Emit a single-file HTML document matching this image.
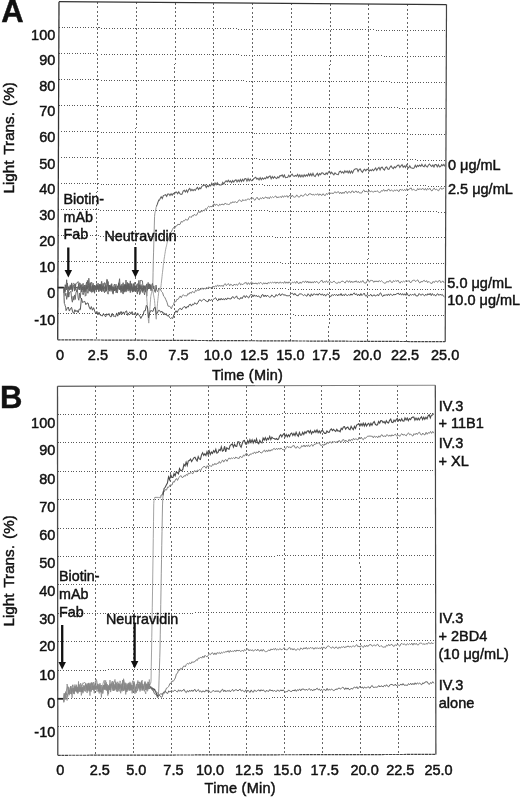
<!DOCTYPE html>
<html><head><meta charset="utf-8"><style>
html,body{margin:0;padding:0;background:#fff;}
body{width:520px;height:798px;overflow:hidden;}
svg{display:block;filter:blur(0.3px);}
text{font-family:"Liberation Sans",sans-serif;fill:#111;stroke:#111;stroke-width:0.45px;}
</style></head><body>
<svg width="520" height="798" viewBox="0 0 520 798">
<defs><linearGradient id="gtop" gradientUnits="userSpaceOnUse" x1="57" y1="0" x2="436" y2="0"><stop offset="0" stop-color="#333"/><stop offset="0.35" stop-color="#666"/><stop offset="1" stop-color="#888"/></linearGradient></defs>
<rect width="520" height="798" fill="#fff"/>
<line x1="57.8" y1="313.79" x2="445.3" y2="315.77" stroke="#585858" stroke-width="1" stroke-dasharray="1 1.64" shape-rendering="crispEdges"/>
<line x1="57.9" y1="287.78" x2="445.4" y2="289.84" stroke="#585858" stroke-width="1" stroke-dasharray="1 1.64" shape-rendering="crispEdges"/>
<line x1="58" y1="261.78" x2="445.5" y2="263.91" stroke="#585858" stroke-width="1" stroke-dasharray="1 1.64" shape-rendering="crispEdges"/>
<line x1="58.1" y1="235.77" x2="445.6" y2="237.98" stroke="#585858" stroke-width="1" stroke-dasharray="1 1.64" shape-rendering="crispEdges"/>
<line x1="58.2" y1="209.76" x2="445.7" y2="212.05" stroke="#585858" stroke-width="1" stroke-dasharray="1 1.64" shape-rendering="crispEdges"/>
<line x1="58.3" y1="183.75" x2="445.8" y2="186.12" stroke="#585858" stroke-width="1" stroke-dasharray="1 1.64" shape-rendering="crispEdges"/>
<line x1="58.4" y1="157.75" x2="445.9" y2="160.18" stroke="#585858" stroke-width="1" stroke-dasharray="1 1.64" shape-rendering="crispEdges"/>
<line x1="58.5" y1="131.74" x2="446" y2="134.25" stroke="#585858" stroke-width="1" stroke-dasharray="1 1.64" shape-rendering="crispEdges"/>
<line x1="58.6" y1="105.73" x2="446.1" y2="108.32" stroke="#585858" stroke-width="1" stroke-dasharray="1 1.64" shape-rendering="crispEdges"/>
<line x1="58.7" y1="79.72" x2="446.2" y2="82.39" stroke="#585858" stroke-width="1" stroke-dasharray="1 1.64" shape-rendering="crispEdges"/>
<line x1="58.8" y1="53.72" x2="446.3" y2="56.46" stroke="#585858" stroke-width="1" stroke-dasharray="1 1.64" shape-rendering="crispEdges"/>
<line x1="58.9" y1="27.71" x2="446.4" y2="30.53" stroke="#585858" stroke-width="1" stroke-dasharray="1 1.64" shape-rendering="crispEdges"/>
<line x1="97.75" y1="1.99" x2="96.45" y2="339.99" stroke="#666" stroke-width="1" stroke-dasharray="2 2.3" shape-rendering="crispEdges"/>
<line x1="136.5" y1="2.28" x2="135.2" y2="340.18" stroke="#666" stroke-width="1" stroke-dasharray="2 2.3" shape-rendering="crispEdges"/>
<line x1="175.25" y1="2.57" x2="173.95" y2="340.37" stroke="#666" stroke-width="1" stroke-dasharray="2 2.3" shape-rendering="crispEdges"/>
<line x1="214" y1="2.86" x2="212.7" y2="340.56" stroke="#666" stroke-width="1" stroke-dasharray="2 2.3" shape-rendering="crispEdges"/>
<line x1="252.75" y1="3.15" x2="251.45" y2="340.75" stroke="#666" stroke-width="1" stroke-dasharray="2 2.3" shape-rendering="crispEdges"/>
<line x1="291.5" y1="3.44" x2="290.2" y2="340.94" stroke="#666" stroke-width="1" stroke-dasharray="2 2.3" shape-rendering="crispEdges"/>
<line x1="330.25" y1="3.73" x2="328.95" y2="341.13" stroke="#666" stroke-width="1" stroke-dasharray="2 2.3" shape-rendering="crispEdges"/>
<line x1="369" y1="4.02" x2="367.7" y2="341.32" stroke="#666" stroke-width="1" stroke-dasharray="2 2.3" shape-rendering="crispEdges"/>
<line x1="407.75" y1="4.31" x2="406.45" y2="341.51" stroke="#666" stroke-width="1" stroke-dasharray="2 2.3" shape-rendering="crispEdges"/>
<line x1="59" y1="1.7" x2="446.5" y2="4.6" stroke="#333" stroke-width="1.3"/>
<line x1="59" y1="1.7" x2="57.7" y2="339.8" stroke="#333" stroke-width="1.3"/>
<line x1="446.5" y1="4.6" x2="445.2" y2="341.7" stroke="#444" stroke-width="1.2"/>
<line x1="57.7" y1="339.8" x2="445.2" y2="341.7" stroke="#444" stroke-width="1.2" stroke-dasharray="3 0.6"/>
<polyline fill="none" points="57.7,287.6 63.8,287.6" stroke="#222" stroke-width="1.8"/>
<polyline fill="none" points="63.8,289.73 64.52,290.93 65.23,284.69 65.95,288.32 66.66,279.76 67.38,289.21 68.09,297.23 68.81,287.32 69.52,289.96 70.24,285.99 70.95,289.56 71.67,284.95 72.38,291.49 73.1,286.67 73.81,285.23 74.53,291.11 75.24,284.11 75.96,290.26 76.67,292.1 77.39,286.68 78.1,289.6 78.82,284.18 79.53,289.99 80.25,285.38 80.96,288.66 81.68,291.89 82.39,285.64 83.11,283.31 83.82,289.72 84.54,285.05 85.25,296.2 85.97,295.4 86.68,285.72 87.4,292.83 88.11,293.28 88.83,286.21 89.54,290.85 90.26,282.78 90.97,288.29 91.69,292.56 92.4,292.01 93.12,285.75 93.83,291.52 94.55,285.08 95.26,289.04 95.98,285.55 96.69,289.82 97.41,285.4 98.12,288.97 98.84,285.77 99.55,284.01 100.27,290.79 100.98,284.65 101.7,291.99 102.41,286.79 103.13,291.23 103.84,287.15 104.56,282.64 105.27,283.2 105.99,289.38 106.7,279.46 107.42,279.63 108.13,289.84 108.85,284.98 109.56,289.22 110.28,285.95 110.99,289.91 111.71,283.64 112.42,288.74 113.14,292.73 113.85,285.38 114.57,284.06 115.28,289.97 116,284.23 116.71,291.64 117.43,293.07 118.14,286.77 118.86,283.57 119.57,284.23 120.29,288.36 121,292.64 121.72,285.59 122.43,290.85 123.15,286.29 123.86,292.44 124.58,284.88 125.29,290.99 126.01,280.04 126.72,290.5 127.44,286.56 128.15,289.44 128.87,283.15 129.58,288.82 130.3,280.88 131.01,290.78 131.73,285.6 132.44,292.18 133.16,291.45 133.87,283.84 134.59,290.62 135.3,286.09 136.02,289.97 136.73,284.57 137.45,283.67 138.16,289.27 138.88,291.18 139.59,285.27 140.31,288.71 141.02,284.52 141.74,290.78 142.45,292.44 143.17,286.02 143.88,292.5 144.6,294.9 145.31,288.38 146.03,285.39 146.74,296.19 147.46,285.83 148.17,282.44 148.89,288.34 149.6,283.8" stroke="#606060" stroke-width="0.9"/>
<polyline fill="none" points="149.6,283.8 150.32,286.89 150.57,288.22 150.82,288.41 151.07,288.63 151.32,289.15" stroke="#606060" stroke-width="1.05"/>
<polyline fill="none" points="151.32,289.15 151.57,289.24 151.82,289.65 152.07,289.68 152.32,290.02 152.57,291 152.82,285.6 153.07,272.42 153.32,260.86 153.57,252.13 153.82,242.93 154.07,234.29 154.32,225.07 154.57,216.33 154.82,213.77 155.07,212.37 155.32,211.52 155.57,210.11 155.82,209.15 156.07,207.53 156.32,206.49" stroke="#8a8a8a" stroke-width="0.9"/>
<polyline fill="none" points="156.32,206.49 156.57,206.16 156.82,205.14 157.07,204.73 157.32,204.2 157.57,203.5 157.82,202.48 158.07,201.99 158.32,201.27 158.57,200.39 158.82,200.48 159.07,199.99 159.32,200.18 159.57,200.06 159.82,199.44 160.07,198.64 161.17,196.7 162.27,198.5 163.37,195.58 164.47,195.13 165.57,194.68 166.67,196.32 167.77,194.02 168.87,193.98 169.97,195.48 171.07,193.8 172.17,195.38 173.27,193.43 174.37,194 175.47,192.21 176.57,191.97 177.67,193.78 178.77,191.79 179.87,193.65 180.97,194.33 182.07,194.12 183.17,191.07 184.27,190.24 185.37,191.99 186.47,190 187.57,192.18 188.67,189.55 189.77,188.46 190.87,190.86 191.97,189.45 193.07,190.72 194.17,189.48 195.27,190.53 196.37,188.6 197.47,187.41 198.57,189.51 199.67,187.86 200.77,188.74 201.87,186.28 202.97,185.66 204.07,185.28 205.17,184.99 206.27,187.5 207.37,185.62 208.47,186.69 209.57,185.09 210.67,185.93 211.77,183.29 212.87,185.23 213.97,185.86 215.07,183 216.17,184.71 217.27,182.78 218.37,184.37 219.47,185 220.57,185.08 221.67,184.78 222.77,182.38 223.87,183.93 224.97,181.98 226.07,180.76 227.17,181.95 228.27,180.18 229.37,181.9 230.47,180.87 231.57,182.76 232.67,180.58 233.77,182.1 234.87,180.47 235.97,179.76 237.06,181.92 238.16,180.02 239.26,181.76 240.36,179.48 241.46,181.55 242.56,179.34 243.66,181.06 244.76,178.81 245.86,178.55 246.96,181.1 248.06,178.57 249.16,180.91 250.26,179.05 251.36,180.77 252.46,180.6 253.56,178.95 254.66,177.96 255.76,177.19 256.86,179.19 257.96,178.24 259.06,180.01 260.16,177.64 261.26,179.68 262.37,177.96 263.47,179.27 264.57,177.96 265.67,178.71 266.77,176.65 267.87,178.11 268.97,176.41 270.07,176 271.17,178.71 272.27,176.59 273.37,178.24 274.47,176.7 275.57,177.95 276.67,178.62 277.77,176.86 278.87,177.95 279.97,175.62 281.07,175.84 282.17,174.83 283.27,177.06 284.37,175.06 285.47,177.65 286.57,177.57 287.67,177.31 288.77,175.23 289.87,176.84 290.97,175.22 292.07,174.05 293.17,175.89 294.27,176.47 295.37,175.34 296.47,176.16 297.57,174.35 298.67,176.76 299.77,174.92 300.87,177.02 301.97,175.1 303.07,176.95 304.17,174.85 305.27,176.3 306.37,174.89 307.47,176.03 308.57,173.68 309.67,175.83 310.77,173.69 311.87,175.86 312.97,173.31 314.07,175.84 315.17,176.6 316.27,174.55 317.37,173.31 318.47,175.74 319.57,173.56 320.67,174.64 321.77,172.82 322.87,172.98 323.97,174.19 325.07,174.55 326.17,172.93 327.27,174.26 328.37,172.19 329.47,171.32 330.57,173.65 331.67,172.08 332.77,173.68 333.87,174.95 334.97,172.91 336.07,173.91 337.17,174.54 338.27,174.67 339.37,171.56 340.47,171.17 341.57,172.88 342.67,171.75 343.77,173.21 344.87,170.83 345.97,172.46 347.07,171.06 348.17,172.99 349.27,170.93 350.37,173.06 351.47,171.11 352.57,173.11 353.67,170.3 354.77,169.19 355.87,168.82 356.97,168.79 358.07,171.49 359.17,169.39 360.27,168.97 361.37,171.2 362.47,172.29 363.57,170.15 364.67,169.26 365.77,170.84 366.87,169.37 367.97,169.26 369.07,171.35 370.17,169.87 371.27,170.8 372.37,169.29 373.47,170.75 374.57,169.33 375.67,168.03 376.77,170.46 377.87,168.59 378.97,167.42 380.07,170.02 381.17,167.54 382.27,167.14 383.37,169.21 384.47,170.17 385.57,167.3 386.67,166.91 387.77,169.04 388.87,169.44 389.97,167.28 391.07,165.97 392.17,167.58 393.27,168.61 394.37,166.87 395.47,167.67 396.57,166.41 397.67,165.35 398.77,165.17 399.87,167.51 400.97,165.81 402.07,164.63 403.17,167.23 404.27,165.82 405.37,167.47 406.47,164.93 407.57,167.1 408.67,167.98 409.77,165.8 410.87,167.74 411.97,168.06 413.07,168.48 414.17,167.92 415.27,165.14 416.37,167.17 417.47,165.42 418.57,166.43 419.67,165.02 420.77,166.32 421.87,164.38 422.97,166.21 424.07,166.79 425.17,164.63 426.27,166.42 427.37,167.09 428.47,164.99 429.57,163.95 430.67,165.72 431.77,166.44 432.87,164.99 433.97,167.05 435.07,164.57 436.17,164.48 437.27,166.87 438.37,164.68 439.47,166.84 440.57,166.51 441.67,164.64 442.77,165.72 443.87,164.5 444.97,166.49" stroke="#606060" stroke-width="1.05"/>
<polyline fill="none" points="63.8,292.83 64.52,287.49 65.23,291.72 65.95,285.14 66.66,290 67.38,283.07 68.09,289.33 68.81,286.5 69.52,290.29 70.24,284.82 70.95,289.5 71.67,282.9 72.38,290.98 73.1,283.77 73.81,283.33 74.53,283.91 75.24,289.71 75.96,283.26 76.67,283.17 77.39,282.73 78.1,281.59 78.82,288.39 79.53,282.88 80.25,283.21 80.96,289.64 81.68,284.53 82.39,290.14 83.11,286.65 83.82,292.38 84.54,287.5 85.25,290.11 85.97,284.96 86.68,289.16 87.4,280.43 88.11,287.44 88.83,278.21 89.54,286.1 90.26,289.37 90.97,282.77 91.69,282.05 92.4,289.7 93.12,283.22 93.83,290.68 94.55,293.25 95.26,286.27 95.98,290.05 96.69,283.64 97.41,289.43 98.12,283.1 98.84,291.91 99.55,285.35 100.27,289.16 100.98,284.72 101.7,281.33 102.41,288.1 103.13,283.26 103.84,289.43 104.56,286.62 105.27,291.74 105.99,286.88 106.7,291.07 107.42,284.91 108.13,281.54 108.85,289.18 109.56,285.1 110.28,288.85 110.99,284.6 111.71,289.42 112.42,286.7 113.14,290.22 113.85,287 114.57,291.01 115.28,287.06 116,292.73 116.71,291.91 117.43,285.91 118.14,289.26 118.86,283.52 119.57,278.72 120.29,289.23 121,285.38 121.72,284.37 122.43,291.89 123.15,294.07 123.86,286.59 124.58,291.63 125.29,284.49 126.01,292.1 126.72,287.5 127.44,282.41 128.15,288.73 128.87,284.01 129.58,288.6 130.3,292.64 131.01,285.25 131.73,283.63 132.44,291.81 133.16,287.13 133.87,291.53 134.59,285.65 135.3,291.45 136.02,285.77 136.73,291.63 137.45,294.09 138.16,286.96 138.88,280.38 139.59,289.62 140.31,280.08 141.02,280.84 141.74,280.52 142.45,280.85 143.17,289.33 143.88,290.6 144.6,286.33 145.31,289.81" stroke="#606060" stroke-width="0.9"/>
<polyline fill="none" points="145.31,289.81 146.03,288.89 146.28,292.1 146.53,294.93 146.78,298.52 147.03,301.6 147.28,305.06 147.53,308.13 147.78,311.82 148.03,315.21 148.28,318.18 148.53,321.51 148.78,323.1 149.03,319.56 149.28,316.48 149.53,313.2 149.78,309.58 150.03,306.55 150.28,302.87 150.53,299.8 150.78,296.48 151.03,295.26 151.28,293.88 151.53,293.11 151.78,292.12 152.03,290.85 152.28,290.13 152.53,289.41 152.78,290.48 153.03,292 153.28,293.04 153.53,294.8 153.78,295.92 154.03,297.45 154.28,298.67 154.53,300.4 154.78,303.53 155.03,306.08 155.28,308.94 155.53,312.12 155.78,314.81 156.03,318.02 156.28,319.22 156.53,316.19 156.78,312.66 157.03,309.88 157.28,306.81 157.53,303.26 157.78,300.47 158.03,298.44 158.28,296.42 158.53,293.89 158.78,292 159.03,289.9 159.28,289.48 159.53,289.52 159.78,288.81 160.03,288.71 160.28,288.23 160.53,287.75 160.78,287.46 161.03,285.69 161.28,283.56 161.53,280.98 161.78,278.95 162.03,276.72 162.28,274.28 162.53,272.32 162.78,269.92 163.03,267.94 163.28,265.57 163.53,263.7 163.78,261.46 164.03,259.66 164.28,258 164.53,256.68 164.78,254.67 165.03,253.27 165.28,251.69 165.53,249.76 165.78,248.97 166.03,247.55 166.28,246.78 166.53,245.77 166.78,244.29 167.03,243.31 167.28,242.08 167.53,241.67 167.78,240.48" stroke="#9a9a9a" stroke-width="0.9"/>
<polyline fill="none" points="167.78,240.48 168.03,240.53 169.13,236.91 170.23,233.06 171.33,231.89 172.43,229.49 173.53,227.58 174.63,228.63 175.73,226.03 176.83,225.91 177.93,224.1 179.03,224.74 180.13,224.26 181.23,221.4 182.33,222.23 183.43,220.62 184.53,220.84 185.63,219.21 186.73,219.95 187.83,220.08 188.93,217.44 190.03,216.45 191.13,217.56 192.23,215.65 193.33,216.03 194.43,214.22 195.53,215.33 196.63,215.13 197.73,213 198.83,211.19 199.93,212.77 201.03,210.74 202.13,211.76 203.23,210.15 204.33,210.95 205.43,208.62 206.53,209.54 207.63,207.39 208.73,206.22 209.83,207.21 210.93,206.19 212.03,207.01 213.13,204.64 214.23,203.84 215.33,205.5 216.43,203.96 217.53,205.28 218.63,205.91 219.73,204.15 220.83,205.15 221.93,203.93 223.03,204.64 224.13,204.7 225.23,202.98 226.33,204.19 227.43,204.16 228.53,204.52 229.63,204.27 230.73,202.4 231.83,203.09 232.93,201.6 234.03,202.77 235.13,201.41 236.23,202.6 237.33,202.5 238.43,200.59 239.53,199.77 240.62,201.12 241.72,201.56 242.82,199.55 243.92,200.78 245.02,199.64 246.12,200.59 247.22,199.16 248.32,198.95 249.42,199.76 250.52,198.31 251.62,199.22 252.72,197.65 253.82,199.34 254.92,200.31 256.02,198.5 257.12,197.19 258.22,199.19 259.32,199.72 260.43,197.87 261.53,198.77 262.63,197.29 263.73,198.88 264.83,197.46 265.93,196.95 267.03,198.37 268.13,197.34 269.23,198.84 270.33,196.67 271.43,197.74 272.53,196.73 273.63,197.7 274.73,196.5 275.83,195.97 276.93,197.92 278.03,196.92 279.13,197.54 280.23,196.39 281.33,197.74 282.43,195.73 283.53,197.35 284.63,195.76 285.73,196.84 286.83,195.49 287.93,197.45 289.03,195.93 290.13,195.08 291.23,197 292.33,195.02 293.43,196.91 294.53,197.23 295.63,196.81 296.73,194.88 297.83,196.54 298.93,197.12 300.03,196.64 301.13,194.86 302.23,196.1 303.33,196.23 304.43,194.6 305.53,193.75 306.63,195.4 307.73,195.67 308.83,194.03 309.93,193.79 311.03,193.96 312.13,195.01 313.23,194.21 314.33,195.35 315.43,194.15 316.53,194.88 317.63,193.64 318.73,195.48 319.83,193.86 320.93,194.92 322.03,195.44 323.13,193.7 324.23,195.31 325.33,195.52 326.43,193.43 327.53,194.47 328.63,192.86 329.73,192.32 330.83,193.84 331.93,192.74 333.03,193.91 334.13,192.39 335.23,191.73 336.33,193.18 337.43,191.9 338.53,191.7 339.63,193.69 340.73,192.07 341.83,193.89 342.93,192.09 344.03,193.49 345.13,191.57 346.23,191.38 347.33,193.47 348.43,191.72 349.53,191.6 350.63,193.13 351.73,191.15 352.83,190.99 353.93,192.91 355.03,191.54 356.13,191.03 357.23,192.68 358.33,191.27 359.43,193 360.53,192.98 361.63,193.09 362.73,190.99 363.83,189.95 364.93,191.99 366.03,191.07 367.13,191.73 368.23,192.17 369.33,190.33 370.43,192.1 371.53,190.9 372.63,191.8 373.73,192.13 374.83,190.88 375.93,191.79 377.03,190.67 378.13,191.64 379.23,192.45 380.33,192.36 381.43,190.57 382.53,191.17 383.63,189.48 384.73,191.29 385.83,190.01 386.93,191.26 388.03,189.37 389.13,189.34 390.23,191.17 391.33,189.87 392.43,190.71 393.53,191.33 394.63,189.89 395.73,190.86 396.83,189.65 397.93,190.95 399.03,191.51 400.13,189.17 401.23,190.19 402.33,189.44 403.43,190.79 404.53,189.4 405.63,190.78 406.73,188.64 407.83,190.19 408.93,189.18 410.03,188.76 411.13,187.9 412.23,190.31 413.33,189.17 414.43,189.85 415.53,190.54 416.63,190.53 417.73,188.48 418.83,189.93 419.93,188.56 421.03,189.73 422.13,188.73 423.23,188.56 424.33,190.14 425.43,188.38 426.53,190.3 427.63,188.31 428.73,189.52 429.83,188.18 430.93,190.27 432.03,191.03 433.13,189.11 434.23,188.05 435.33,189.84 436.43,189.01 437.53,190.33 438.63,190.82 439.73,188.61 440.83,187.9 441.93,189.49 443.03,188.25 444.13,188.32" stroke="#808080" stroke-width="1.0"/>
<polyline fill="none" points="63.8,289.95 64.52,289.19 65.23,295.66 65.95,293.24 66.66,299.38 67.38,295.21 68.09,292.62 68.81,296.99 69.52,292.34 70.24,292.23 70.95,291.21 71.67,299.18 72.38,302.2 73.1,296.31 73.81,300.21 74.53,294.93 75.24,299.48 75.96,292.67 76.67,291.14 77.39,289.53 78.1,297.86 78.82,300.24 79.53,292.96 80.25,298.28 80.96,290.75 81.68,287.7 82.39,292.58 83.11,294.84 83.82,292.89 84.54,288.04 85.25,291.68 85.97,284.71 86.68,282.17 87.4,289.31 88.11,284.97 88.83,283.64 89.54,288.82 90.26,291.64 90.97,286.3 91.69,291.09 92.4,285.36 93.12,289.83 93.83,285.78 94.55,292.13 95.26,285.84 95.98,289.86 96.69,286.08 97.41,285.72 98.12,289.81 98.84,290.99 99.55,285.07 100.27,289.66 100.98,284.05 101.7,290.42 102.41,286.54 103.13,289.68 103.84,290.75 104.56,292.74 105.27,287.69 105.99,285.42 106.7,290.09 107.42,292.44 108.13,294.17 108.85,285.3 109.56,291.2 110.28,285.78 110.99,291.39 111.71,286.66 112.42,292.23 113.14,294.16 113.85,288.6 114.57,290.78 115.28,286 116,290.02 116.71,291.9 117.43,287.16 118.14,285.59 118.86,282.8 119.57,289.91 120.29,286.2 121,290.37 121.72,291.56 122.43,285.73 123.15,282.68 123.86,288.76 124.58,284.47 125.29,288.95 126.01,284.86 126.72,288.7 127.44,284.6 128.15,291.15 128.87,286.28 129.58,290.39 130.3,286.46 131.01,289.23 131.73,283.81 132.44,291.21 133.16,285.98 133.87,283.44 134.59,282.54 135.3,287.96 136.02,285.97 136.73,289.13 137.45,292.25 138.16,291.43 138.88,284.74 139.59,294.65 140.31,293.64 141.02,285.82 141.74,289.89 142.45,291.03 143.17,285.37 143.88,289.89 144.6,285.67 145.31,292.13 146.03,287.37 146.74,283.89 147.46,290.34 148.17,286.97 148.89,284.3 149.6,288.87 150.32,284.73 151.03,290.81 151.75,284.98 152.46,283.37 153.18,287.97 153.89,285.87 154.61,291.5 155.32,292.43 156.04,285.09 156.75,290.19 157.47,291.69" stroke="#606060" stroke-width="0.9"/>
<polyline fill="none" points="157.47,291.69 158.18,290.2 159.28,288.1 160.38,289.15 161.48,291.49 162.58,292.68 163.68,296.23 164.78,297.24 165.88,299.77 166.98,302.23 168.08,306.15 169.18,306.23 170.28,306.76 171.38,308.86 172.48,305.68 173.58,304.41 174.68,301.08 175.78,301.89 176.88,299.27 177.98,299.52 179.08,297.82 180.18,295.94 181.28,297.75 182.38,295.44 183.48,294.77 184.58,296.01 185.68,295.7 186.78,296.02 187.88,293.53 188.98,294.29 190.08,292.22 191.18,293.39 192.28,291.46 193.38,292.22 194.48,292.7 195.58,290.15 196.68,291.14 197.78,289.42 198.88,290.68 199.98,289.03 201.08,289.56 202.18,287.87 203.28,289.46 204.38,287.96 205.48,289.26 206.58,287.28 207.68,288.56 208.78,286.84 209.88,287.81 210.98,287.77 212.08,287.33 213.18,285.97 214.28,287.25 215.38,285.81 216.48,286.73 217.58,284.89 218.68,286.48 219.78,285.13 220.88,286.4 221.98,285.2 223.08,286.59 224.18,284.56 225.28,283.65 226.38,285.66 227.48,284.26 228.58,283.66 229.68,285.83 230.78,284.2 231.88,285.05 232.98,285.97 234.08,284.18 235.18,285.09 236.28,284.26 237.38,285.48 238.48,283.77 239.58,282.79 240.68,284.96 241.78,283.96 242.88,284.71 243.98,283.28 245.08,282.94 246.18,282.4 247.28,284.59 248.38,282.65 249.48,284.46 250.58,282.62 251.68,281.88 252.78,284.09 253.88,283.1 254.98,283.78 256.08,282.89 257.18,284.28 258.28,282.75 259.38,283.78 260.48,282.18 261.58,283.4 262.68,284.35 263.78,282.69 264.88,283.92 265.98,282.86 267.08,284.12 268.18,282.41 269.28,283.33 270.38,282.14 271.48,283 272.58,282.21 273.68,283 274.78,281.87 275.88,283.48 276.98,282.03 278.08,282.8 279.18,283.23 280.28,281.8 281.38,283.24 282.48,282.1 283.58,283.4 284.68,281.43 285.78,283.32 286.88,281.89 287.98,283.31 289.08,281.74 290.18,283.09 291.28,283.47 292.38,282.11 293.48,282.7 294.58,281.81 295.68,283.33 296.78,281.1 297.88,282.98 298.98,283.77 300.08,281.93 301.18,283.41 302.28,281.81 303.38,281.43 304.48,282.61 305.58,280.88 306.68,282.82 307.78,281.05 308.88,283.06 309.98,281.55 311.08,283.09 312.18,281.71 313.28,283.08 314.38,281.25 315.48,282.68 316.58,281.11 317.68,282.61 318.78,283.35 319.88,281.82 320.98,280.87 322.08,280.3 323.18,282.75 324.28,281.5 325.38,282.34 326.48,280.73 327.58,282.56 328.68,281.68 329.78,282.56 330.88,281.6 331.98,282.87 333.08,281.62 334.18,281.18 335.28,282.53 336.38,283.18 337.48,283.33 338.58,281.8 339.68,283.13 340.78,281.86 341.88,281.24 342.98,281.13 344.08,282.26 345.18,283.04 346.28,281.05 347.38,280.77 348.48,282.33 349.58,280.71 350.68,282.66 351.78,281.11 352.88,282.7 353.98,281.31 355.08,282.09 356.18,280.69 357.28,282.44 358.38,281.32 359.48,283 360.58,281.28 361.68,282.19 362.78,280.48 363.88,282.56 364.98,283.01 366.08,283.09 367.18,280.75 368.28,279.92 369.38,282.22 370.48,280.37 371.58,280.43 372.68,280.55 373.78,282.36 374.88,280.88 375.98,281.78 377.08,280.9 378.18,282.08 379.28,280.52 380.38,281.69 381.48,280.71 382.58,281.79 383.68,282.71 384.78,283.31 385.88,282.9 386.98,281.19 388.08,282.3 389.18,280.92 390.28,280.51 391.38,282.4 392.48,282.46 393.58,280.5 394.68,281.62 395.78,280.46 396.88,281.51 397.98,280.17 399.08,282.33 400.18,283.08 401.28,281.32 402.38,282.21 403.48,281.17 404.58,281.83 405.68,280.87 406.78,280.37 407.88,281.54 408.98,280.42 410.08,282.45 411.18,282.5 412.28,280.65 413.38,280.27 414.48,280.1 415.58,281.65 416.68,280.52 417.78,279.87 418.88,282.1 419.98,283.04 421.08,281.28 422.18,282.13 423.28,280.71 424.38,280.36 425.48,282.02 426.58,280.59 427.68,282.73 428.78,281.35 429.88,282.47 430.98,283.3 432.08,283.38 433.18,281.36 434.28,282.6 435.38,280.97 436.48,281.02 437.58,282.4 438.68,280.75 439.78,280.43 440.88,282.78 441.98,281.43 443.08,281.04 444.18,283.05" stroke="#808080" stroke-width="1.0"/>
<polyline fill="none" points="63.8,287.73 64.05,297.11 64.3,303.33 64.55,303.74 64.8,304.37 65.05,305.45 65.3,305.98 65.55,306.86 65.8,307.74 66.05,310.58 67.15,308.61 68.25,307.01 69.35,311.07 70.45,308.79 71.55,307.33 72.65,311.87 73.75,313.42 74.85,309.69 75.95,311.79 77.05,310.32 78.15,312.6 79.25,308.96 80.35,309.63 81.45,298.03 82.55,302.52 83.65,301.84 84.75,301.32 85.85,304.68 86.95,303.11 88.05,303.02 89.15,307.07 90.25,309.25 91.35,306.6 92.45,310.21 93.55,307.73 94.65,310.98 95.75,313.7 96.85,311.34 97.95,314.91 99.05,312.23 100.15,315.12 101.25,315.43 102.35,316.08 103.45,313.46 104.55,315.42 105.65,316.88 106.75,313.72 107.85,315.15 108.95,313.49 110.05,316.51 111.15,316.92 112.25,313.28 113.35,316.21 114.45,316.22 115.55,316.8 116.65,312.93 117.75,316.18 118.85,312.12 119.95,314.24 121.05,311.44 122.15,314.23 123.25,311.86 124.35,314.07 125.45,311.56 126.55,310.86 127.65,315.37 128.75,313.04 129.85,311.96 130.95,314.16 132.05,311.61 133.15,314.66 134.25,313.4 135.35,312.82 136.45,315.88 137.55,312.93 138.65,314.65 139.75,316.01 140.85,318.46 141.95,316.08 143.05,315.39 144.15,310.79 145.25,310.8 146.35,305.41 147.45,306.75 148.55,317.91 149.65,312.98 150.75,310.51 151.85,310.85 152.95,311.48 154.05,307.97 155.15,307.25 156.25,314.05 157.35,313.24 158.45,310.37 159.55,310.41 160.65,312.36 161.75,310.99 162.85,313.39 163.95,312.7 165.05,315.04 166.15,313.45 167.25,316.04 168.35,315.12 169.45,317.43 170.55,318.48 171.65,317.81 172.75,318.42 173.85,314.92 174.95,312.74 176.05,310.73 177.15,312.48 178.25,310.25 179.35,308.71 180.45,308.37 181.55,309.97 182.65,307.8 183.75,307.12 184.85,306.47 185.95,308.41 187.05,306.46 188.15,307.19 189.25,304.69 190.35,304.2 191.45,306.1 192.55,304.09 193.65,304.72 194.75,302.66 195.85,303.81 196.95,304.19 198.05,302.26 199.15,300.23 200.25,299.72 201.35,301.28 202.45,300.39 203.55,299.22 204.65,299.54 205.75,301.03 206.85,301.3 207.95,301.87 209.05,299.13 210.15,300.72 211.25,299.5 212.35,300.41 213.45,299.25 214.55,298.55 215.65,297.77 216.75,299.95 217.85,300.91 218.95,298.58 220.05,300.14 221.15,298.26 222.25,300.04 223.35,298.6 224.45,300.08 225.55,298.13 226.65,299.78 227.75,297.92 228.85,298.65 229.95,298.83 231.05,298.99 232.15,296.88 233.25,296.78 234.35,298.46 235.45,297.27 236.55,295.88 237.65,298.48 238.75,298.71 239.85,299.25 240.95,297.34 242.05,298.74 243.15,296.44 244.25,295.62 245.35,297.65 246.45,295.64 247.55,297.17 248.65,298.01 249.75,295.61 250.85,294.65 251.95,294.52 253.05,296.87 254.15,294.88 255.25,296.34 256.35,295.19 257.45,296.97 258.55,295.69 259.65,297.29 260.75,297.73 261.85,294.98 262.95,294.52 264.05,296.83 265.15,294.98 266.25,296.81 267.35,295.07 268.45,296.36 269.55,297.22 270.65,296.98 271.75,294.87 272.85,296.22 273.95,297.05 275.05,296.8 276.15,294.47 277.25,295.99 278.35,295 279.45,293.59 280.55,295.95 281.65,294.21 282.75,293.92 283.85,295.41 284.95,294.6 286.05,295.62 287.15,295.78 288.25,295.75 289.35,295.8 290.45,294.42 291.55,293.42 292.65,293.27 293.75,295.14 294.85,293.31 295.95,295.04 297.05,295.5 298.15,295.87 299.25,293.94 300.35,293.93 301.45,293.81 302.55,294.97 303.65,295.55 304.75,294.54 305.85,295.57 306.95,296.24 308.05,293.7 309.15,295.14 310.25,296.49 311.35,293.79 312.45,295.96 313.55,293.96 314.65,293.9 315.75,295.13 316.85,293.81 317.95,295.35 319.05,293.56 320.15,293.84 321.25,295.2 322.35,293.8 323.45,295.65 324.55,294.2 325.65,296.15 326.75,294.39 327.85,293.93 328.95,295.2 330.05,296.25 331.15,296.35 332.25,294.5 333.35,295.62 334.45,294.16 335.55,295.45 336.65,294.37 337.75,296 338.85,294.23 339.95,295.39 341.05,293.47 342.15,295.89 343.25,294.45 344.35,295.8 345.45,293.8 346.55,295.38 347.65,295.6 348.75,294.33 349.85,295.56 350.95,293.8 352.05,295.26 353.15,293.79 354.25,292.83 355.35,294.9 356.45,293.66 357.55,295.79 358.65,294.04 359.75,295.94 360.85,293.5 361.95,295.55 363.05,294.42 364.15,293.09 365.25,295.66 366.35,296.17 367.45,294.39 368.55,295.57 369.65,295.68 370.75,294.19 371.85,296.04 372.95,295.93 374.05,294.58 375.15,296.05 376.25,295.67 377.35,294.4 378.45,296.04 379.55,293.65 380.65,292.84 381.75,295.5 382.85,296.51 383.95,294.76 385.05,295.7 386.15,294.37 387.25,295.73 388.35,293.9 389.45,295.58 390.55,293.92 391.65,294.92 392.75,295.52 393.85,294.07 394.95,294.98 396.05,294.11 397.15,293.71 398.25,293.12 399.35,294.85 400.45,293.28 401.55,295.18 402.65,293.57 403.75,295.24 404.85,293.69 405.95,295.4 407.05,293.3 408.15,295.45 409.25,295.9 410.35,294.24 411.45,295.32 412.55,294.16 413.65,295.3 414.75,293.65 415.85,295.79 416.95,295.94 418.05,295.82 419.15,293.49 420.25,294.79 421.35,295.25 422.45,293.81 423.55,295.2 424.65,295.86 425.75,294.18 426.85,295.4 427.95,293.64 429.05,294.96 430.15,293.27 431.25,295.62 432.35,293.54 433.45,295.29 434.55,294.54 435.65,296.12 436.75,294.3 437.85,293.73 438.95,295.45 440.05,294.2 441.15,295.21 442.25,294.43 443.35,296.12 444.45,296.88" stroke="#555" stroke-width="1.0"/>
<text x="55.3" y="324.6" font-size="14.5" text-anchor="end" font-weight="normal" >-10</text>
<text x="55.3" y="298.4" font-size="14.5" text-anchor="end" font-weight="normal" >0</text>
<text x="55.3" y="272.2" font-size="14.5" text-anchor="end" font-weight="normal" >10</text>
<text x="55.3" y="245.7" font-size="14.5" text-anchor="end" font-weight="normal" >20</text>
<text x="55.3" y="220" font-size="14.5" text-anchor="end" font-weight="normal" >30</text>
<text x="55.3" y="193.7" font-size="14.5" text-anchor="end" font-weight="normal" >40</text>
<text x="55.3" y="169" font-size="14.5" text-anchor="end" font-weight="normal" >50</text>
<text x="55.3" y="142.4" font-size="14.5" text-anchor="end" font-weight="normal" >60</text>
<text x="55.3" y="116.3" font-size="14.5" text-anchor="end" font-weight="normal" >70</text>
<text x="55.3" y="91.3" font-size="14.5" text-anchor="end" font-weight="normal" >80</text>
<text x="55.3" y="65.3" font-size="14.5" text-anchor="end" font-weight="normal" >90</text>
<text x="55.3" y="39.8" font-size="14.5" text-anchor="end" font-weight="normal" >100</text>
<text x="60" y="360.3" font-size="14.5" text-anchor="middle" font-weight="normal" >0</text>
<text x="97.9" y="360.3" font-size="14.5" text-anchor="middle" font-weight="normal" >2.5</text>
<text x="137.2" y="360.3" font-size="14.5" text-anchor="middle" font-weight="normal" >5.0</text>
<text x="178.4" y="360.3" font-size="14.5" text-anchor="middle" font-weight="normal" >7.5</text>
<text x="217.9" y="360.3" font-size="14.5" text-anchor="middle" font-weight="normal" >10.0</text>
<text x="254.3" y="360.3" font-size="14.5" text-anchor="middle" font-weight="normal" >12.5</text>
<text x="290.4" y="360.3" font-size="14.5" text-anchor="middle" font-weight="normal" >15.0</text>
<text x="326" y="360.3" font-size="14.5" text-anchor="middle" font-weight="normal" >17.5</text>
<text x="367.1" y="360.3" font-size="14.5" text-anchor="middle" font-weight="normal" >20.0</text>
<text x="405" y="360.3" font-size="14.5" text-anchor="middle" font-weight="normal" >22.5</text>
<text x="445.1" y="360.3" font-size="14.5" text-anchor="middle" font-weight="normal" >25.0</text>
<text x="211.9" y="380.4" font-size="14.5" text-anchor="start" font-weight="normal" letter-spacing="0.25">Time (Min)</text>
<text transform="translate(14.2,193.5) rotate(-90)" font-size="15.2" word-spacing="2">Light Trans. (%)</text>
<text x="1.2" y="21.9" font-size="31" text-anchor="start" font-weight="bold" >A</text>
<text x="63.5" y="204.2" font-size="14.3" text-anchor="start" font-weight="normal" >Biotin-</text>
<text x="63.5" y="222" font-size="14.3" text-anchor="start" font-weight="normal" >mAb</text>
<text x="63.5" y="238.8" font-size="14.3" text-anchor="start" font-weight="normal" >Fab</text>
<text x="104.4" y="241.2" font-size="14.3" text-anchor="start" font-weight="normal" >Neutravidin</text>
<rect x="67.15" y="247.5" width="2.3" height="23" fill="#111"/><polygon points="64.55,270 72.05,270 68.3,277.5" fill="#111"/>
<rect x="134.25" y="247" width="2.3" height="23.5" fill="#111"/><polygon points="131.65,270 139.15,270 135.4,277.5" fill="#111"/>
<text x="448" y="169.9" font-size="14.5" text-anchor="start" font-weight="normal" >0 &#956;g/mL</text>
<text x="448" y="194.1" font-size="14.5" text-anchor="start" font-weight="normal" >2.5 &#956;g/mL</text>
<text x="447.3" y="288.2" font-size="14.5" text-anchor="start" font-weight="normal" >5.0 &#956;g/mL</text>
<text x="447.3" y="304.6" font-size="14.5" text-anchor="start" font-weight="normal" >10.0 &#956;g/mL</text>
<line x1="57.78" y1="726.91" x2="435.85" y2="726" stroke="#585858" stroke-width="1" stroke-dasharray="1 1.64" shape-rendering="crispEdges"/>
<line x1="57.75" y1="698.52" x2="435.81" y2="697.6" stroke="#585858" stroke-width="1" stroke-dasharray="1 1.64" shape-rendering="crispEdges"/>
<line x1="57.73" y1="670.12" x2="435.76" y2="669.2" stroke="#585858" stroke-width="1" stroke-dasharray="1 1.64" shape-rendering="crispEdges"/>
<line x1="57.71" y1="641.73" x2="435.72" y2="640.8" stroke="#585858" stroke-width="1" stroke-dasharray="1 1.64" shape-rendering="crispEdges"/>
<line x1="57.68" y1="613.34" x2="435.67" y2="612.4" stroke="#585858" stroke-width="1" stroke-dasharray="1 1.64" shape-rendering="crispEdges"/>
<line x1="57.66" y1="584.95" x2="435.62" y2="584" stroke="#585858" stroke-width="1" stroke-dasharray="1 1.64" shape-rendering="crispEdges"/>
<line x1="57.64" y1="556.55" x2="435.58" y2="555.6" stroke="#585858" stroke-width="1" stroke-dasharray="1 1.64" shape-rendering="crispEdges"/>
<line x1="57.62" y1="528.16" x2="435.53" y2="527.2" stroke="#585858" stroke-width="1" stroke-dasharray="1 1.64" shape-rendering="crispEdges"/>
<line x1="57.59" y1="499.77" x2="435.48" y2="498.8" stroke="#585858" stroke-width="1" stroke-dasharray="1 1.64" shape-rendering="crispEdges"/>
<line x1="57.57" y1="471.38" x2="435.44" y2="470.4" stroke="#585858" stroke-width="1" stroke-dasharray="1 1.64" shape-rendering="crispEdges"/>
<line x1="57.55" y1="442.98" x2="435.39" y2="442" stroke="#585858" stroke-width="1" stroke-dasharray="1 1.64" shape-rendering="crispEdges"/>
<line x1="57.52" y1="414.59" x2="435.35" y2="413.6" stroke="#585858" stroke-width="1" stroke-dasharray="1 1.64" shape-rendering="crispEdges"/>
<line x1="95.28" y1="386.1" x2="95.61" y2="755.21" stroke="#666" stroke-width="1" stroke-dasharray="2 2.3" shape-rendering="crispEdges"/>
<line x1="133.06" y1="386" x2="133.42" y2="755.12" stroke="#666" stroke-width="1" stroke-dasharray="2 2.3" shape-rendering="crispEdges"/>
<line x1="170.84" y1="385.9" x2="171.23" y2="755.03" stroke="#666" stroke-width="1" stroke-dasharray="2 2.3" shape-rendering="crispEdges"/>
<line x1="208.62" y1="385.8" x2="209.04" y2="754.94" stroke="#666" stroke-width="1" stroke-dasharray="2 2.3" shape-rendering="crispEdges"/>
<line x1="246.4" y1="385.7" x2="246.85" y2="754.85" stroke="#666" stroke-width="1" stroke-dasharray="2 2.3" shape-rendering="crispEdges"/>
<line x1="284.18" y1="385.6" x2="284.66" y2="754.76" stroke="#666" stroke-width="1" stroke-dasharray="2 2.3" shape-rendering="crispEdges"/>
<line x1="321.96" y1="385.5" x2="322.47" y2="754.67" stroke="#666" stroke-width="1" stroke-dasharray="2 2.3" shape-rendering="crispEdges"/>
<line x1="359.74" y1="385.4" x2="360.28" y2="754.58" stroke="#666" stroke-width="1" stroke-dasharray="2 2.3" shape-rendering="crispEdges"/>
<line x1="397.52" y1="385.3" x2="398.09" y2="754.49" stroke="#666" stroke-width="1" stroke-dasharray="2 2.3" shape-rendering="crispEdges"/>
<line x1="57.5" y1="386.2" x2="435.3" y2="385.2" stroke="url(#gtop)" stroke-width="1.1"/>
<line x1="57.5" y1="386.2" x2="57.8" y2="755.3" stroke="#4a4a4a" stroke-width="1.3"/>
<line x1="435.3" y1="385.2" x2="435.9" y2="754.4" stroke="#444" stroke-width="1.2"/>
<line x1="57.8" y1="755.3" x2="435.9" y2="754.4" stroke="#444" stroke-width="1.2" stroke-dasharray="3 0.6"/>
<polyline fill="none" points="57.5,698.8 63.5,698.8" stroke="#222" stroke-width="1.8"/>
<polyline fill="none" points="63.5,702.13 64.22,702.13 64.93,695.64 65.65,699.52 66.36,693.5 67.08,694.35 67.79,696.59 68.51,691.69 69.22,693.88 69.94,688.81 70.65,686.7 71.37,693.55 72.08,686.31 72.8,684.75 73.51,691.1 74.23,693.61 74.94,686 75.66,690.87 76.37,684.71 77.09,691.76 77.8,688.16 78.52,684.24 79.23,690.84 79.95,691.72 80.66,687.27 81.38,691.99 82.09,687.04 82.81,682.95 83.52,683.64 84.24,682.13 84.95,683.14 85.67,683.1 86.38,687.9 87.1,683.72 87.81,691.39 88.53,683.93 89.24,691.26 89.96,686.43 90.67,684.7 91.39,682.56 92.1,687.46 92.82,683.13 93.53,682.01 94.25,693.31 94.96,685.7 95.68,689.45 96.39,686.39 97.11,688.84 97.82,684.06 98.54,691.15 99.25,684.41 99.97,689.43 100.68,692.29 101.4,685 102.11,689.29 102.83,684.27 103.54,681.79 104.26,680.24 104.97,689.79 105.69,683.5 106.4,689.88 107.12,684.2 107.83,691.5 108.55,685.59 109.26,689.89 109.98,680.08 110.69,688.1 111.41,683.96 112.12,681.35 112.84,689.27 113.55,682.81 114.27,690.57 114.98,685.92 115.7,681.58 116.41,688.96 117.13,684.21 117.84,681.73 118.56,687.43 119.27,684.72 119.99,689.69 120.7,693.25 121.42,687.41 122.13,691.39 122.85,680.16 123.56,690.53 124.28,690.65 124.99,684.16 125.71,689.97 126.42,692.1 127.14,684.49 127.85,690.26 128.57,685.02 129.28,690.04 130,683.23 130.71,690.58 131.43,684.66 132.14,682.87 132.86,680.63 133.57,688.55 134.29,682.51 135,687.52 135.72,692.15 136.43,691.27 137.15,691.05 137.86,684.32 138.58,687.38 139.29,682.06 140.01,689.43 140.72,683.82 141.44,681.19 142.15,689.69 142.87,683.83 143.58,689.4 144.3,691.04 145.01,683.05 145.73,689.89 146.44,683.64 147.16,688.75 147.87,681.72 148.59,689.17 149.3,679.5" stroke="#858585" stroke-width="0.75"/>
<polyline fill="none" points="149.3,679.5 150.02,683.82 150.27,684.45 150.52,683.6 150.77,682.98 151.02,681.39 151.27,666.43 151.52,652.02 151.77,637.36 152.02,622.69 152.27,607.83 152.52,591.98 152.77,574.03 153.02,556.67 153.27,538.71 153.52,521.23 153.77,503.34 154.02,500.32 154.27,499.21 154.52,498.53 154.77,497.31" stroke="#9a9a9a" stroke-width="0.9"/>
<polyline fill="none" points="154.77,497.31 155.02,497.07 155.27,497.11 155.52,497.49 155.77,497.53 156.02,497.16 156.27,497.55 156.52,497.54 156.77,497.21 157.02,497.42 157.27,497.56 157.52,497.56 157.77,497.25 158.02,497.48 158.27,497.19 158.52,497.24 158.77,497.6 159.02,497.29 159.27,497.49 159.52,497.39 159.77,497.62 160.02,497.42 160.27,497.59 160.52,497.8 160.77,497.34 161.02,495.09 162.12,495 163.22,491.16 164.32,491.55 165.42,489.52 166.52,490.06 167.62,487.12 168.72,487.34 169.82,485.18 170.92,484.96 172.02,485.14 173.12,481.7 174.22,482.26 175.32,480.01 176.42,478.48 177.52,480.41 178.62,477.75 179.72,476.8 180.82,475.48 181.92,477.42 183.02,477.4 184.12,475.63 185.22,476.31 186.32,474.36 187.42,475.48 188.52,472.83 189.62,474.05 190.72,472.19 191.82,473.32 192.92,473.73 194.02,471.04 195.12,470.67 196.22,472.1 197.32,470.07 198.42,470.74 199.52,469.4 200.62,470.77 201.72,468.41 202.82,467.25 203.92,466.49 205.02,466.6 206.12,468.29 207.22,465.72 208.32,467.14 209.42,465.31 210.52,466.02 211.62,466.42 212.72,464.18 213.82,465.12 214.92,463.26 216.02,464.77 217.12,463.25 218.22,463.5 219.32,461.45 220.42,463.33 221.52,461.72 222.62,459.92 223.72,462.14 224.82,460.15 225.92,459.5 227.02,461.36 228.12,459.22 229.22,457.86 230.32,459.18 231.42,457.81 232.52,458.65 233.62,457.55 234.72,458.81 235.82,457 236.92,457.92 238.02,458.17 239.12,458.53 240.22,456.14 241.31,457.35 242.41,457.27 243.51,455.06 244.61,456 245.71,453.8 246.81,453.39 247.91,455.43 249.01,455.9 250.11,453.89 251.21,454.58 252.31,453.12 253.41,453.65 254.51,451.88 255.61,453.58 256.71,451.82 257.81,452.97 258.91,450.93 260.01,452.13 261.12,452.98 262.22,452.68 263.32,450.92 264.42,450.04 265.52,452.1 266.62,449.97 267.72,451.72 268.82,449.76 269.92,451.31 271.02,449.66 272.12,450.55 273.22,448.86 274.32,448.38 275.42,449.89 276.52,448.2 277.62,449.58 278.72,448.02 279.82,449.42 280.92,447.93 282.02,449.11 283.12,449.89 284.22,449.54 285.32,449.21 286.42,447.28 287.52,445.99 288.62,447.88 289.72,446.69 290.82,448.05 291.92,446.42 293.02,445.83 294.12,445.54 295.22,447.86 296.32,448.08 297.42,446.23 298.52,447.72 299.62,448.29 300.72,447.76 301.82,445.58 302.92,446.72 304.02,444.98 305.12,447.03 306.22,445.15 307.32,446.53 308.42,444.84 309.52,446.9 310.62,445.35 311.72,444.37 312.82,446.31 313.92,444.55 315.02,444.22 316.12,443.75 317.22,443.34 318.32,442.94 319.42,442.95 320.52,445.32 321.62,445.69 322.72,444.07 323.82,445.64 324.92,443.76 326.02,444.62 327.12,442.23 328.22,443.68 329.32,442 330.42,441.81 331.52,443.31 332.62,441.17 333.72,442.42 334.82,441.38 335.92,442.92 337.02,441.31 338.12,442.2 339.22,440.25 340.32,441.92 341.42,442.32 342.52,439.84 343.62,439.48 344.72,441.7 345.82,440.07 346.92,441.69 348.02,441.51 349.12,439.35 350.22,441.18 351.32,439.34 352.42,440.38 353.52,438.22 354.62,439.93 355.72,438.58 356.82,439.45 357.92,439.95 359.02,437.33 360.12,439.02 361.22,437.05 362.32,439.08 363.42,439.74 364.52,437.7 365.62,438.32 366.72,436.87 367.82,436.17 368.92,436.19 370.02,436.01 371.12,436.26 372.22,436.15 373.32,437.86 374.42,435.89 375.52,437.42 376.62,436.22 377.72,437.87 378.82,435.83 379.92,437.26 381.02,435.19 382.12,434.76 383.22,436.69 384.32,435.65 385.42,437 386.52,434.81 387.62,434.88 388.72,436.39 389.82,434.95 390.92,436.36 392.02,434.7 393.12,436.02 394.22,434.86 395.32,434.13 396.42,435.82 397.52,436.08 398.62,434.94 399.72,436.37 400.82,434.59 401.92,433.7 403.02,435.24 404.12,434.36 405.22,435.2 406.32,435.84 407.42,433.82 408.52,432.87 409.62,434.77 410.72,434.01 411.82,435.48 412.92,436.05 414.02,433.64 415.12,434.78 416.22,433.05 417.32,434.53 418.42,432.7 419.52,432.21 420.62,434.52 421.72,435.03 422.82,433 423.92,434.59 425.02,434.87 426.12,432.31 427.22,434.27 428.32,432.55 429.42,433.3 430.52,431.38 431.62,433.4 432.72,431.43 433.82,433.21" stroke="#808080" stroke-width="1.0"/>
<polyline fill="none" points="63.5,702.21 64.22,694.89 64.93,698.08 65.65,691.86 66.36,694.95 67.08,684 67.79,686.97 68.51,693.15 69.22,690.2 69.94,692.86 70.65,693.75 71.37,689.09 72.08,697.8 72.8,688.37 73.51,693.52 74.23,689.59 74.94,684.52 75.66,690.93 76.37,688.01 77.09,692.47 77.8,688.63 78.52,692.48 79.23,687.03 79.95,691.79 80.66,687.88 81.38,695.4 82.09,688.25 82.81,693.28 83.52,691.93 84.24,686.74 84.95,685.54 85.67,683.89 86.38,687.99 87.1,693.04 87.81,686.57 88.53,683.1 89.24,689.34 89.96,682.89 90.67,688.55 91.39,682.62 92.1,690 92.82,685.71 93.53,688.91 94.25,685.37 94.96,682.92 95.68,680.54 96.39,688.8 97.11,691.65 97.82,684.43 98.54,690.6 99.25,693.46 99.97,684.84 100.68,689.37 101.4,692.22 102.11,686.9 102.83,690.23 103.54,685.44 104.26,688.56 104.97,683.19 105.69,680.39 106.4,688.11 107.12,684.59 107.83,695.6 108.55,687.44 109.26,689.7 109.98,683.78 110.69,689.87 111.41,684.72 112.12,683.79 112.84,682.83 113.55,690.89 114.27,685.47 114.98,690.02 115.7,685.96 116.41,691.29 117.13,691.23 117.84,685.4 118.56,683.62 119.27,690.62 119.99,691.44 120.7,685.4 121.42,689.57 122.13,685.5 122.85,680 123.56,679.63 124.28,688.82 124.99,682.75 125.71,694.41 126.42,687.93 127.14,691.65 127.85,686.31 128.57,682.85 129.28,689.19 130,683.68 130.71,689.86 131.43,684.91 132.14,690.59 132.86,691.74 133.57,683.42 134.29,688.9 135,692.46 135.72,686.88 136.43,688.61 137.15,683.35 137.86,680.47 138.58,682.99 139.29,682.18 140.01,682.09 140.72,687.82 141.44,682.06 142.15,680.12 142.87,689.7 143.58,686.28 144.3,691.13 145.01,691.35 145.73,693.88 146.44,685.43 147.16,688.94 147.87,685.58 148.59,682.07 149.3,687.28" stroke="#858585" stroke-width="0.75"/>
<polyline fill="none" points="149.3,687.28 150.02,686.99 150.27,687.35 150.52,687.22 150.77,687.58 151.02,687.79 151.27,687.66 151.52,688.03 151.77,687.96 152.02,688.32 152.27,688.54 152.52,688.37 152.77,688.79 153.02,688.76 153.27,689.04 153.52,688.9 153.77,688.98 154.02,689.47 154.27,689.34 154.52,689.75 154.77,689.67 155.02,690.15 155.27,690.9 155.52,691.57 155.77,691.93 156.02,692.85 156.27,693.19 156.52,694.09 156.77,694.45 157.02,695.35 157.27,695.86 157.52,695.42 157.77,695.46 158.02,695.07 158.27,694.74" stroke="#4a4a4a" stroke-width="1.1"/>
<polyline fill="none" points="158.27,694.74 158.52,694.08 158.77,688.89 159.02,680.88 159.27,673.18 159.52,665.03 159.77,657.49 160.02,648.88 160.27,634.15 160.52,619.37 160.77,604.38 161.02,589.08 161.27,573.87 161.52,559.32 161.77,545.3 162.02,531.53 162.27,517.99 162.52,504.94 162.77,499.19 163.02,495.68" stroke="#8a8a8a" stroke-width="0.9"/>
<polyline fill="none" points="163.02,495.68 164.12,488.47 165.22,487.3 166.32,485.06 167.42,483.01 168.52,476.93 169.62,479.64 170.72,474.77 171.82,477.39 172.92,477.46 174.02,473.73 175.12,475.78 176.22,472.02 177.32,472.53 178.42,473.81 179.52,468.52 180.62,470.48 181.72,470.62 182.82,469.38 183.92,464.44 185.02,466.03 186.12,462.08 187.22,465.43 188.32,460.86 189.42,460.62 190.52,459.03 191.62,461.51 192.72,459.76 193.82,457.85 194.92,457.24 196.02,459.37 197.12,460.96 198.22,456.6 199.32,458.88 200.42,459.37 201.52,454.84 202.62,452.73 203.72,455.44 204.82,453.83 205.92,455.43 207.02,451.68 208.12,454.72 209.22,451.01 210.32,454.46 211.42,452.05 212.52,453.39 213.62,450.57 214.72,452.23 215.82,449.27 216.92,453.1 218.02,452.49 219.12,449.5 220.22,450.58 221.32,446.9 222.42,451.23 223.52,450.5 224.62,446.26 225.72,451.97 226.82,447.72 227.92,448.86 229.02,449.2 230.12,445.66 231.22,444.7 232.32,443.85 233.42,447.12 234.52,444.25 235.62,446.15 236.72,446.34 237.82,441.83 238.92,441.84 240.02,445.46 241.12,447.26 242.22,443.62 243.31,440.88 244.41,440.39 245.51,444.03 246.61,444.12 247.71,440.5 248.81,442.96 249.91,439.63 251.01,442.48 252.11,439.83 253.21,442.96 254.31,440.04 255.41,442.26 256.51,438.86 257.61,442.82 258.71,443.87 259.81,440.51 260.92,442.59 262.02,442.79 263.12,437.96 264.22,439.97 265.32,437.67 266.42,440.42 267.52,438.2 268.62,439.43 269.72,436.39 270.82,439.61 271.92,437.22 273.02,438.28 274.12,438.46 275.22,439.34 276.32,438.57 277.42,439.53 278.52,439.13 279.62,436.01 280.72,434.66 281.82,436.86 282.92,434.73 284.02,433.59 285.12,436.64 286.22,434.49 287.32,436.75 288.42,434.82 289.52,436.49 290.62,433.88 291.72,433.06 292.82,435.51 293.92,433.41 295.02,435.55 296.12,432.37 297.22,434.97 298.32,436.26 299.42,432.46 300.52,435.19 301.62,435.03 302.72,432.37 303.82,434.46 304.92,431.89 306.02,433.21 307.12,431.24 308.22,430.73 309.32,432.81 310.42,430.59 311.52,433.76 312.62,431.56 313.72,432.64 314.82,430.4 315.92,432.31 317.02,429.92 318.12,432.75 319.22,430.94 320.32,432.99 321.42,430.94 322.52,430.2 323.62,432.17 324.72,433.4 325.82,433.41 326.92,430.96 328.02,432.13 329.12,432.38 330.22,429.95 331.32,428.86 332.42,430.54 333.52,429.27 334.62,430.64 335.72,431.36 336.82,429.35 337.92,431.1 339.02,430.8 340.12,431.73 341.22,428.37 342.32,429.58 343.42,426.9 344.52,426.63 345.62,429.1 346.72,427.68 347.82,426.95 348.92,429.08 350.02,429.7 351.12,426.33 352.22,428.38 353.32,429.58 354.42,426.4 355.52,428.41 356.62,425.01 357.72,424.42 358.82,423.68 359.92,426.05 361.02,423.73 362.12,425.81 363.22,423.2 364.32,426.01 365.42,423.35 366.52,425.96 367.62,424.12 368.72,423.39 369.82,425.94 370.92,423.25 372.02,425.2 373.12,422.88 374.22,421.5 375.32,424.32 376.42,425.08 377.52,424.73 378.62,421.49 379.72,423.05 380.82,420.66 381.92,420.75 383.02,422.57 384.12,421.52 385.22,423.5 386.32,420.72 387.42,422.6 388.52,423.04 389.62,420.33 390.72,419.08 391.82,422.2 392.92,422.61 394.02,420.1 395.12,421.54 396.22,419.7 397.32,418.5 398.42,421 399.52,419.44 400.62,421.03 401.72,418.75 402.82,420.92 403.92,421.16 405.02,417.89 406.12,419.94 407.22,417.96 408.32,420.74 409.42,418.59 410.52,419.63 411.62,417.68 412.72,417.14 413.82,417.16 414.92,420.07 416.02,418.05 417.12,419.93 418.22,418.16 419.32,419.94 420.42,417.98 421.52,416.84 422.62,419.67 423.72,417.23 424.82,419.33 425.92,417.28 427.02,418.89 428.12,415.75 429.22,414.79 430.32,417.93 431.42,415.15 432.52,415.01 433.62,413.62" stroke="#4a4a4a" stroke-width="1.1"/>
<polyline fill="none" points="63.5,701.4 64.22,693.66 64.93,697.17 65.65,693.32 66.36,696.03 67.08,700.51 67.79,692.48 68.51,687.26 69.22,695.2 69.94,687.81 70.65,686.18 71.37,692.49 72.08,686.61 72.8,684.92 73.51,690.57 74.23,688.01 74.94,691.86 75.66,687.39 76.37,691.33 77.09,687.08 77.8,693.69 78.52,681.4 79.23,690.91 79.95,687.23 80.66,683.07 81.38,691.31 82.09,687.09 82.81,691.98 83.52,685.4 84.24,691.17 84.95,686.49 85.67,691.59 86.38,685.19 87.1,689.95 87.81,686.69 88.53,689.94 89.24,686.4 89.96,695.66 90.67,686.8 91.39,690.6 92.1,686.78 92.82,682.76 93.53,690.59 94.25,685.53 94.96,689.1 95.68,684.83 96.39,679.46 97.11,682.23 97.82,688.41 98.54,685.55 99.25,691.41 99.97,683.17 100.68,688.82 101.4,697.46 102.11,688.71 102.83,692.75 103.54,687.52 104.26,685.14 104.97,689.41 105.69,683.64 106.4,682.36 107.12,689.28 107.83,692.92 108.55,685.54 109.26,689.34 109.98,684.4 110.69,690.54 111.41,683.42 112.12,682.59 112.84,681.19 113.55,682.99 114.27,682.24 114.98,679.4 115.7,686.98 116.41,689.58 117.13,691.12 117.84,691.91 118.56,683.7 119.27,688.89 119.99,680.84 120.7,682.55 121.42,688.22 122.13,683.84 122.85,690.33 123.56,678.72 124.28,681.94 124.99,687.05 125.71,689.61 126.42,685.37 127.14,689.75 127.85,683.55 128.57,689.03 129.28,685.71 130,681.84 130.71,689.54 131.43,685.3 132.14,693.38 132.86,685.31 133.57,681.47 134.29,681.56 135,690.24 135.72,691.03 136.43,692.62 137.15,685.54 137.86,681.9 138.58,688.39 139.29,685.56 140.01,689.34 140.72,690.23 141.44,685.74 142.15,688.61 142.87,684.48 143.58,687.8 144.3,684.78 145.01,682.11 145.73,689.92 146.44,686.2 147.16,690.31 147.87,683.87 148.59,688.45 149.3,683.79" stroke="#858585" stroke-width="0.75"/>
<polyline fill="none" points="149.3,683.79 150.02,687.04 151.12,686.59 152.22,689.25 153.32,690 154.42,690.66 155.52,690.5 156.62,692.63 157.72,692.77 158.82,695.67 159.92,695.45 161.02,697.29 162.12,697.01 163.22,693.39 164.32,691.25 165.42,690.87 166.52,688.05 167.62,687.58 168.72,686.49 169.82,683.58 170.92,683.4 172.02,680.91 173.12,681.53 174.22,679.93 175.32,677.99 176.42,673.87 177.52,673.22 178.62,669.69 179.72,670.29 180.82,668.24 181.92,669.31 183.02,666.94 184.12,665.75 185.22,666.93 186.32,664.49 187.42,663.35 188.52,664.21 189.62,662.63 190.72,663.89 191.82,661.82 192.92,662.38 194.02,661.89 195.12,661.59 196.22,659.74 197.32,660.44 198.42,658.04 199.52,658.4 200.62,656.98 201.72,658.18 202.82,656.01 203.92,657.72 205.02,655.28 206.12,656.49 207.22,656.74 208.32,655.15 209.42,653.78 210.52,654.69 211.62,653.01 212.72,652.78 213.82,654.75 214.92,652.88 216.02,654.68 217.12,652.56 218.22,653.38 219.32,652.36 220.42,654.02 221.52,652.15 222.62,652.99 223.72,651.93 224.82,652.48 225.92,651.45 227.02,652.07 228.12,650.63 229.22,652.49 230.31,650.32 231.41,652 232.51,650.86 233.61,651.68 234.71,650.01 235.81,651.61 236.91,649.94 238.01,651.06 239.11,650.11 240.21,651.29 241.31,651.29 242.41,650.03 243.51,651.45 244.61,649.48 245.71,650.58 246.81,649.34 247.91,648.84 249.01,650.92 250.11,649.56 251.21,650.81 252.31,649.66 253.41,651.27 254.51,650.01 255.61,649.52 256.71,650.94 257.81,649.04 258.91,650.71 260.01,651.18 261.11,649.53 262.21,651.25 263.31,649.27 264.42,651.07 265.52,651.66 266.62,651.56 267.72,651.05 268.82,649.74 269.92,650.88 271.02,648.88 272.12,650.02 273.22,648.75 274.32,649.76 275.42,648.19 276.52,650.14 277.62,649.17 278.72,649.95 279.82,648.49 280.92,649.44 282.02,649.75 283.12,648.61 284.22,647.76 285.32,649.48 286.42,649.75 287.52,649.73 288.62,648.02 289.72,647.46 290.82,649.66 291.92,648.44 293.02,650.06 294.12,648.51 295.22,649.93 296.32,650.35 297.42,648.75 298.52,649.24 299.62,650.17 300.72,647.9 301.82,648.78 302.92,649.41 304.02,647.73 305.12,648.98 306.22,647.23 307.32,649.23 308.42,647.93 309.52,648.7 310.62,647.25 311.72,648.43 312.82,647.64 313.92,649.3 315.02,647.6 316.12,648.64 317.22,647.57 318.32,648.91 319.42,647.72 320.52,649.06 321.62,646.94 322.72,648.51 323.82,646.94 324.92,648.34 326.02,648.38 327.12,646.49 328.22,645.88 329.32,646.36 330.42,647.59 331.52,648.26 332.62,646.68 333.72,648.06 334.82,648.39 335.92,646.79 337.02,647.72 338.12,648.71 339.22,646.89 340.32,648.25 341.42,646.78 342.52,647.37 343.62,646.36 344.72,648.02 345.82,646.47 346.92,647.09 348.02,645.8 349.12,647.14 350.22,646.34 351.32,647.11 352.42,646.25 353.52,645.98 354.62,646.92 355.72,645.42 356.82,644.67 357.92,646.77 359.02,646 360.12,647.27 361.22,645.42 362.32,646.71 363.42,647.41 364.52,645.29 365.62,646.91 366.72,645.12 367.82,646.65 368.92,645.08 370.02,644.68 371.12,644.6 372.22,646.26 373.32,645.49 374.42,644.79 375.52,646.16 376.62,644.73 377.72,644.23 378.82,646.08 379.92,646.65 381.02,645.51 382.12,646.5 383.22,647.26 384.32,646.86 385.42,647.27 386.52,645.16 387.62,645.99 388.72,644.27 389.82,645.85 390.92,644.48 392.02,644.42 393.12,646.14 394.22,646.31 395.32,644.66 396.42,645.79 397.52,644 398.62,645.29 399.72,646.24 400.82,643.96 401.92,643.38 403.02,644.64 404.12,643.73 405.22,644.63 406.32,645.17 407.42,643.57 408.52,644.7 409.62,643.68 410.72,644.68 411.82,643.07 412.92,645.18 414.02,643.15 415.12,644.52 416.22,643.23 417.32,644.94 418.42,644.94 419.52,643.25 420.62,643.1 421.72,643.26 422.82,644.52 423.92,643.58 425.02,644.63 426.12,643.35 427.22,644.34 428.32,642.63 429.42,642.87 430.52,644.1 431.62,642.5 432.72,643.9 433.82,642.81" stroke="#808080" stroke-width="1.0"/>
<polyline fill="none" points="63.5,700.82 64.22,693.12 64.93,699.2 65.65,691.94 66.36,690.75 67.08,688.63 67.79,686.49 68.51,693.96 69.22,690.25 69.94,693.3 70.65,686.49 71.37,694.27 72.08,688.11 72.8,691.66 73.51,688.45 74.23,694.19 74.94,686.73 75.66,690.44 76.37,686.28 77.09,692.52 77.8,686.92 78.52,690.27 79.23,684.46 79.95,689.35 80.66,687.09 81.38,684.65 82.09,692.07 82.81,687.04 83.52,690.08 84.24,685.63 84.95,689.48 85.67,683.55 86.38,688.47 87.1,690.44 87.81,683.41 88.53,683.02 89.24,691.07 89.96,683.9 90.67,691.43 91.39,691.62 92.1,686.32 92.82,689.91 93.53,685.88 94.25,689.44 94.96,685.02 95.68,689.54 96.39,685.64 97.11,688.91 97.82,683.8 98.54,691.22 99.25,686.87 99.97,690.53 100.68,690.27 101.4,691.98 102.11,692.14 102.83,693.71 103.54,684.88 104.26,689.45 104.97,684.67 105.69,689.93 106.4,690.71 107.12,686.79 107.83,692.39 108.55,693.84 109.26,686.56 109.98,689.07 110.69,692.1 111.41,684.08 112.12,684.16 112.84,690.69 113.55,683.07 114.27,687.41 114.98,684.1 115.7,688.48 116.41,682.68 117.13,690.41 117.84,684.04 118.56,690.52 119.27,683.8 119.99,688.19 120.7,684.34 121.42,690.54 122.13,683.49 122.85,689.8 123.56,690.64 124.28,686.07 124.99,690.13 125.71,682.85 126.42,683.84 127.14,688.01 127.85,690.14 128.57,684.19 129.28,690.86 130,683.64 130.71,687.5 131.43,689.45 132.14,689.91 132.86,684.93 133.57,690.83 134.29,692.85 135,693.77 135.72,686.97 136.43,683.95 137.15,690.81 137.86,690.26 138.58,684.42 139.29,684.07 140.01,691.52 140.72,683.29 141.44,682.8 142.15,690.83 142.87,686.57 143.58,688.7 144.3,685.58 145.01,681.38 145.73,687.33 146.44,684.2 147.16,691.24 147.87,690.68 148.59,684.04 149.3,688.7" stroke="#858585" stroke-width="0.75"/>
<polyline fill="none" points="149.3,688.7 150.02,688.17 151.12,687.73 152.22,690.18 153.32,690.62 154.42,693.69 155.52,694.13 156.62,695.22 157.72,697.71 158.82,695.32 159.92,694.64 161.02,693.44 162.12,694.72 163.22,692.57 164.32,693.27 165.42,691.19 166.52,692.99 167.62,693.52 168.72,690.92 169.82,691.85 170.92,691.1 172.02,690.48 173.12,691.69 174.22,690.35 175.32,690.35 176.42,691.42 177.52,691.93 178.62,689.8 179.72,691.27 180.82,690.31 181.92,691.38 183.02,690.03 184.12,689.39 185.22,691.74 186.32,692.56 187.42,690.59 188.52,692.09 189.62,690.14 190.72,691.46 191.82,689.95 192.92,691.53 194.02,689.89 195.12,689.5 196.22,691.83 197.32,690.44 198.42,689.53 199.52,691.81 200.62,690.83 201.72,692.34 202.82,690.74 203.92,691.59 205.02,691.8 206.12,689.9 207.22,691.34 208.32,689.86 209.42,691.66 210.52,692.33 211.62,691.95 212.72,690.91 213.82,690.54 214.92,691.72 216.02,690.82 217.12,691.48 218.22,690.7 219.32,692.16 220.42,692.15 221.52,689.99 222.62,689.21 223.72,691.67 224.82,689.97 225.92,691.82 227.02,690.53 228.12,691.26 229.22,690.26 230.31,691.91 231.41,690.49 232.51,689.37 233.61,691.33 234.71,690.23 235.81,689.69 236.91,689.98 238.01,691.03 239.11,689.7 240.21,689.22 241.31,691.07 242.41,690.33 243.51,691.18 244.61,691.89 245.71,689.87 246.81,691.76 247.91,690.04 249.01,691.56 250.11,692.45 251.21,689.93 252.31,691.8 253.41,692.16 254.51,689.88 255.61,691.17 256.71,691.36 257.81,690.25 258.91,689.86 260.01,691.29 261.11,689.67 262.21,691.02 263.31,689.77 264.42,691.31 265.52,691.97 266.62,690.15 267.72,691.33 268.82,691.26 269.92,689.44 271.02,690.9 272.12,690.07 273.22,691.41 274.32,690.22 275.42,691.32 276.52,691.41 277.62,689.83 278.72,691.08 279.82,691.2 280.92,689.79 282.02,691.05 283.12,689.79 284.22,691.19 285.32,691.98 286.42,691.62 287.52,691.6 288.62,689.88 289.72,691.01 290.82,691.47 291.92,691.33 293.02,690.02 294.12,691.01 295.22,689.51 296.32,691.35 297.42,689.7 298.52,690.55 299.62,688.91 300.72,690.86 301.82,689.09 302.92,689.17 304.02,689.17 305.12,690.39 306.22,689.12 307.32,690.32 308.42,689.31 309.52,688.7 310.62,690.35 311.72,689.5 312.82,690.89 313.92,689.27 315.02,690.16 316.12,688.97 317.22,688.24 318.32,689.92 319.42,688.96 320.52,690.79 321.62,689.37 322.72,690.48 323.82,689.38 324.92,689.87 326.02,690.68 327.12,688.38 328.22,690.38 329.32,689.15 330.42,690.17 331.52,688.98 332.62,689.82 333.72,690.59 334.82,690.08 335.92,688.93 337.02,689.43 338.12,688.62 339.22,687.9 340.32,689.11 341.42,688.38 342.52,687.27 343.62,687.71 344.72,689.64 345.82,687.78 346.92,689.27 348.02,687.93 349.12,689.67 350.22,689.52 351.32,688.09 352.42,689.28 353.52,687.62 354.62,687 355.72,688.16 356.82,686.7 357.92,688.76 359.02,687.51 360.12,686.08 361.22,687.95 362.32,686.98 363.42,688.47 364.52,686.98 365.62,687.75 366.72,687.88 367.82,686.74 368.92,687.3 370.02,688.29 371.12,686.29 372.22,685.51 373.32,687.45 374.42,687.39 375.52,687.11 376.62,687.26 377.72,686.95 378.82,685.49 379.92,686.98 381.02,685.75 382.12,686.3 383.22,686.86 384.32,685.29 385.42,686.34 386.52,684.71 387.62,686.28 388.72,686.84 389.82,684.88 390.92,684.56 392.02,684.36 393.12,685.22 394.22,685.49 395.32,684.05 396.42,685.96 397.52,684.71 398.62,685.25 399.72,685.46 400.82,683.94 401.92,685.21 403.02,683.55 404.12,685.25 405.22,685.08 406.32,685.22 407.42,685.48 408.52,683.58 409.62,684.78 410.72,683.2 411.82,684.86 412.92,683.29 414.02,684.78 415.12,682.77 416.22,684.35 417.32,682.87 418.42,683.9 419.52,682.9 420.62,684.18 421.72,684.75 422.82,682.73 423.92,683.7 425.02,682.06 426.12,681.89 427.22,681.74 428.32,683.75 429.42,684.39 430.52,682.55 431.62,683.46 432.72,681.67 433.82,683.33" stroke="#666" stroke-width="1.0"/>
<text x="55.3" y="736.5" font-size="14.5" text-anchor="end" font-weight="normal" >-10</text>
<text x="55.3" y="707.9" font-size="14.5" text-anchor="end" font-weight="normal" >0</text>
<text x="55.3" y="679.6" font-size="14.5" text-anchor="end" font-weight="normal" >10</text>
<text x="55.3" y="651" font-size="14.5" text-anchor="end" font-weight="normal" >20</text>
<text x="55.3" y="624.3" font-size="14.5" text-anchor="end" font-weight="normal" >30</text>
<text x="55.3" y="596.3" font-size="14.5" text-anchor="end" font-weight="normal" >40</text>
<text x="55.3" y="568.1" font-size="14.5" text-anchor="end" font-weight="normal" >50</text>
<text x="55.3" y="539.6" font-size="14.5" text-anchor="end" font-weight="normal" >60</text>
<text x="55.3" y="511.9" font-size="14.5" text-anchor="end" font-weight="normal" >70</text>
<text x="55.3" y="484.4" font-size="14.5" text-anchor="end" font-weight="normal" >80</text>
<text x="55.3" y="455" font-size="14.5" text-anchor="end" font-weight="normal" >90</text>
<text x="55.3" y="428" font-size="14.5" text-anchor="end" font-weight="normal" >100</text>
<text x="60.25" y="775.2" font-size="14.5" text-anchor="middle" font-weight="normal" >0</text>
<text x="99.75" y="775.2" font-size="14.5" text-anchor="middle" font-weight="normal" >2.5</text>
<text x="136.25" y="775.2" font-size="14.5" text-anchor="middle" font-weight="normal" >5.0</text>
<text x="173.4" y="775.2" font-size="14.5" text-anchor="middle" font-weight="normal" >7.5</text>
<text x="210" y="775.2" font-size="14.5" text-anchor="middle" font-weight="normal" >10.0</text>
<text x="249.2" y="775.2" font-size="14.5" text-anchor="middle" font-weight="normal" >12.5</text>
<text x="287.4" y="775.2" font-size="14.5" text-anchor="middle" font-weight="normal" >15.0</text>
<text x="324.6" y="775.2" font-size="14.5" text-anchor="middle" font-weight="normal" >17.5</text>
<text x="364.6" y="775.2" font-size="14.5" text-anchor="middle" font-weight="normal" >20.0</text>
<text x="400.3" y="775.2" font-size="14.5" text-anchor="middle" font-weight="normal" >22.5</text>
<text x="438.5" y="775.2" font-size="14.5" text-anchor="middle" font-weight="normal" >25.0</text>
<text x="204.6" y="792.9" font-size="14.5" text-anchor="start" font-weight="normal" letter-spacing="0.25">Time (Min)</text>
<text transform="translate(13.8,626.5) rotate(-90)" font-size="15.2" word-spacing="2">Light Trans. (%)</text>
<text x="0" y="407.9" font-size="31" text-anchor="start" font-weight="bold" >B</text>
<text x="59" y="581.2" font-size="14.3" text-anchor="start" font-weight="normal" >Biotin-</text>
<text x="59" y="599.2" font-size="14.3" text-anchor="start" font-weight="normal" >mAb</text>
<text x="59" y="616.5" font-size="14.3" text-anchor="start" font-weight="normal" >Fab</text>
<text x="106" y="623.5" font-size="14.3" text-anchor="start" font-weight="normal" >Neutravidin</text>
<rect x="61.05" y="625" width="2.3" height="37.5" fill="#111"/><polygon points="58.45,662 65.95,662 62.2,669.6" fill="#111"/>
<rect x="133.45" y="622.8" width="2.3" height="38.7" fill="#111"/><polygon points="130.85,661 138.35,661 134.6,668.5" fill="#111"/>
<text x="438.8" y="410.6" font-size="14.5" text-anchor="start" font-weight="normal" >IV.3</text>
<text x="438.5" y="428.3" font-size="14.5" text-anchor="start" font-weight="normal" >+ 11B1</text>
<text x="438.8" y="448.2" font-size="14.5" text-anchor="start" font-weight="normal" >IV.3</text>
<text x="438.5" y="466.3" font-size="14.5" text-anchor="start" font-weight="normal" >+ XL</text>
<text x="438.8" y="622.7" font-size="14.5" text-anchor="start" font-weight="normal" >IV.3</text>
<text x="438.5" y="641.2" font-size="14.5" text-anchor="start" font-weight="normal" >+ 2BD4</text>
<text x="438.5" y="658.9" font-size="14.5" text-anchor="start" font-weight="normal" >(10 &#956;g/mL)</text>
<text x="438.8" y="689.6" font-size="14.5" text-anchor="start" font-weight="normal" >IV.3</text>
<text x="438.8" y="708" font-size="14.5" text-anchor="start" font-weight="normal" >alone</text>
</svg>
</body></html>
